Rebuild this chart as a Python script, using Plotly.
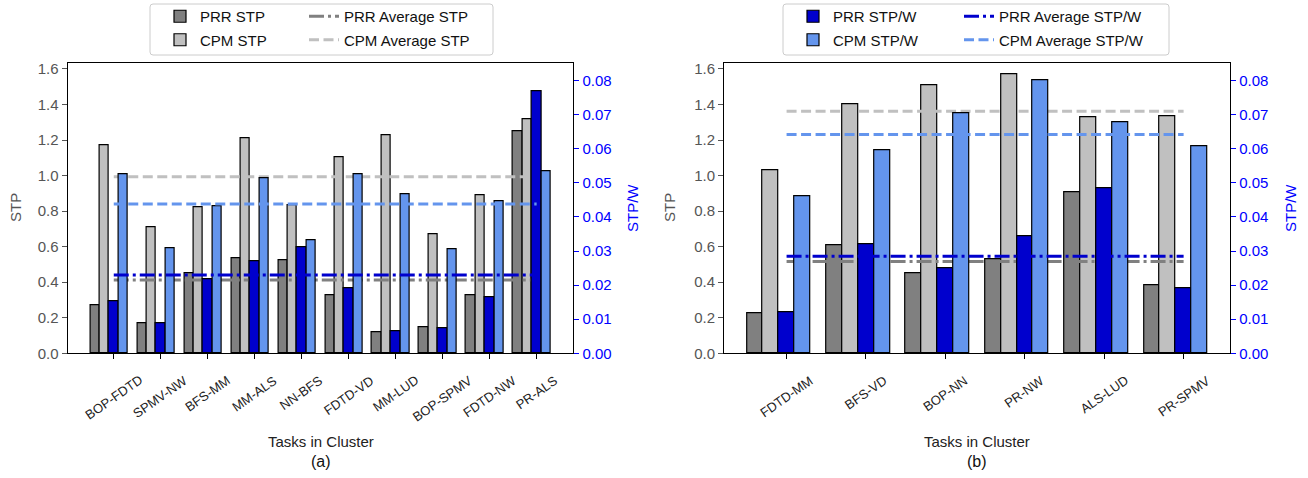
import plotly.graph_objects as go

# ---------------- data ----------------
cats_a = ["BOP-FDTD", "SPMV-NW", "BFS-MM", "MM-ALS", "NN-BFS", "FDTD-VD",
          "MM-LUD", "BOP-SPMV", "FDTD-NW", "PR-ALS"]
prr_stp_a = [0.270, 0.171, 0.450, 0.535, 0.523, 0.326, 0.118, 0.144, 0.328, 1.251]
cpm_stp_a = [1.169, 0.707, 0.820, 1.210, 0.835, 1.105, 1.229, 0.672, 0.891, 1.319]
prr_stpw_a = [0.0153, 0.0087, 0.0218, 0.0271, 0.0310, 0.0190, 0.0066, 0.0072, 0.0165, 0.0770]
cpm_stpw_a = [0.0526, 0.0308, 0.0431, 0.0514, 0.0332, 0.0524, 0.0467, 0.0306, 0.0447, 0.0535]
prr_avg_stp_a = 0.413
cpm_avg_stp_a = 0.994
prr_avg_stpw_a = 0.0230
cpm_avg_stpw_a = 0.0438

cats_b = ["FDTD-MM", "BFS-VD", "BOP-NN", "PR-NW", "ALS-LUD", "PR-SPMV"]
prr_stp_b = [0.225, 0.610, 0.448, 0.527, 0.904, 0.381]
cpm_stp_b = [1.032, 1.403, 1.508, 1.572, 1.326, 1.334]
prr_stpw_b = [0.0120, 0.0320, 0.0250, 0.0344, 0.0483, 0.0191]
cpm_stpw_b = [0.0462, 0.0597, 0.0704, 0.0802, 0.0677, 0.0606]
prr_avg_stp_b = 0.516
cpm_avg_stp_b = 1.362
prr_avg_stpw_b = 0.0285
cpm_avg_stpw_b = 0.0642

stp_ticks = [0.0, 0.2, 0.4, 0.6, 0.8, 1.0, 1.2, 1.4, 1.6]
stpw_ticks = [0.00, 0.01, 0.02, 0.03, 0.04, 0.05, 0.06, 0.07, 0.08]

# ---------------- style ----------------
W, H = 1308, 478   # reference picture size; the figure fills the window
FONT = "Liberation Sans, Arial, sans-serif"
C_PRR = "#808080"
C_CPM = "#c0c0c0"
C_PRRW = "#0000cd"
C_CPMW = "#6495ed"
GRAY_TXT = "#555555"
BLUE_TXT = "#0000ff"
BAR_OFFSETS = [-0.4, -0.2, 0.0, 0.2]
BAR_W = 0.2


def px_x(p):
    return p / W


def px_y(p):
    return 1 - p / H


ydom = [px_y(353.3), px_y(63.3)]
xdom_a = [px_x(67.7), px_x(573.3)]
xdom_b = [px_x(724.3), px_x(1230.0)]

fig = go.Figure()


def add_panel(cats, prr, cpm, prrw, cpmw, avg_prr, avg_cpm, avg_prrw, avg_cpmw,
              xa, ya, ya2, leg_bar, leg_line, show_stp_legend):
    n = len(cats)
    idx = list(range(n))
    series = [
        ("PRR STP", prr, C_PRR, ya, show_stp_legend),
        ("CPM STP", cpm, C_CPM, ya, show_stp_legend),
        ("PRR STP/W", prrw, C_PRRW, ya2, not show_stp_legend),
        ("CPM STP/W", cpmw, C_CPMW, ya2, not show_stp_legend),
    ]
    for k, (name, vals, col, yax, sl) in enumerate(series):
        fig.add_trace(go.Bar(
            x=[i + BAR_OFFSETS[k] for i in idx], y=vals, width=BAR_W,
            name=name, marker=dict(color=col, line=dict(color="black", width=1.2)),
            xaxis=xa, yaxis=yax, showlegend=sl, legend=leg_bar,
            legendgroup=name + xa,
        ))
    lines = [
        ("PRR Average STP", avg_prr, C_PRR, "15px,4px,3px,4px", ya, show_stp_legend),
        ("CPM Average STP", avg_cpm, C_CPM, "10px,4.5px", ya, show_stp_legend),
        ("PRR Average STP/W", avg_prrw, C_PRRW, "15px,4px,3px,4px", ya2, not show_stp_legend),
        ("CPM Average STP/W", avg_cpmw, C_CPMW, "10px,4.5px", ya2, not show_stp_legend),
    ]
    for name, v, col, dash, yax, sl in lines:
        fig.add_trace(go.Scatter(
            x=[0, n - 1], y=[v, v], mode="lines", name=name,
            line=dict(color=col, width=3, dash=dash),
            xaxis=xa, yaxis=yax, showlegend=sl, legend=leg_line,
            legendgroup=name + xa,
        ))


add_panel(cats_a, prr_stp_a, cpm_stp_a, prr_stpw_a, cpm_stpw_a,
          prr_avg_stp_a, cpm_avg_stp_a, prr_avg_stpw_a, cpm_avg_stpw_a,
          "x", "y", "y2", "legend", "legend2", True)
add_panel(cats_b, prr_stp_b, cpm_stp_b, prr_stpw_b, cpm_stpw_b,
          prr_avg_stp_b, cpm_avg_stp_b, prr_avg_stpw_b, cpm_avg_stpw_b,
          "x2", "y3", "y4", "legend3", "legend4", False)


def xaxis_cfg(dom, n, ymatch):
    m = 0.049 * (n - 0.2)
    return dict(domain=dom, range=[-0.5 - m, n - 1 + 0.3 + m],
                tickvals=list(range(n)), showticklabels=False,
                ticks="outside", ticklen=5, tickcolor="black", tickwidth=1,
                showline=True, linecolor="black", linewidth=1.3, mirror=True,
                showgrid=False, zeroline=False, anchor=ymatch)


def yaxis_cfg(xanchor):
    return dict(domain=ydom, range=[0, 1.632], tickvals=stp_ticks, tickformat=".1f",
                ticks="outside", ticklen=5, tickcolor=GRAY_TXT, tickwidth=1,
                tickfont=dict(family=FONT, size=15, color=GRAY_TXT),
                showline=True, linecolor="black", linewidth=1.3,
                showgrid=False, zeroline=False, anchor=xanchor)


def yaxis2_cfg(xanchor, over):
    return dict(range=[0, 0.0851], tickvals=stpw_ticks, tickformat=".2f",
                overlaying=over, side="right",
                ticks="outside", ticklen=5, tickcolor=BLUE_TXT, tickwidth=1,
                tickfont=dict(family=FONT, size=15, color=BLUE_TXT),
                showline=True, linecolor="black", linewidth=1.3,
                showgrid=False, zeroline=False, anchor=xanchor)


annotations = []


def add_labels(cats, xref, xcenter_px, stp_x_px, stpw_x_px, letter):
    for i, c in enumerate(cats):
        annotations.append(dict(x=i, xref=xref, y=px_y(370), yref="paper",
                                text=c, showarrow=False, textangle=-35,
                                xanchor="center", yanchor="top",
                                font=dict(family=FONT, size=13, color="#222222")))
    annotations.append(dict(x=px_x(xcenter_px), y=px_y(441), xref="paper", yref="paper",
                            text="Tasks in Cluster", showarrow=False,
                            xanchor="center", yanchor="middle",
                            font=dict(family=FONT, size=15, color="#222222")))
    annotations.append(dict(x=px_x(xcenter_px), y=px_y(461), xref="paper", yref="paper",
                            text=letter, showarrow=False,
                            xanchor="center", yanchor="middle",
                            font=dict(family=FONT, size=16, color="#111111")))
    annotations.append(dict(x=px_x(stp_x_px), y=px_y(208), xref="paper", yref="paper",
                            text="STP", showarrow=False, textangle=-90,
                            xanchor="center", yanchor="middle",
                            font=dict(family=FONT, size=15, color=GRAY_TXT)))
    annotations.append(dict(x=px_x(stpw_x_px), y=px_y(208), xref="paper", yref="paper",
                            text="STP/W", showarrow=False, textangle=-90,
                            xanchor="center", yanchor="middle",
                            font=dict(family=FONT, size=15, color=BLUE_TXT)))


add_labels(cats_a, "x", 320.5, 15, 632, "(a)")
add_labels(cats_b, "x2", 977, 669, 1290, "(b)")


def rounded_box(x0, y0, x1, y1, r=3):
    X0, X1 = px_x(x0), px_x(x1)
    Y0, Y1 = px_y(y0), px_y(y1)
    rx, ry = r / W, r / H
    path = (f"M{X0 + rx},{Y0} L{X1 - rx},{Y0} Q{X1},{Y0} {X1},{Y0 - ry} "
            f"L{X1},{Y1 + ry} Q{X1},{Y1} {X1 - rx},{Y1} "
            f"L{X0 + rx},{Y1} Q{X0},{Y1} {X0},{Y1 + ry} "
            f"L{X0},{Y0 - ry} Q{X0},{Y0} {X0 + rx},{Y0} Z")
    return dict(type="path", path=path, xref="paper", yref="paper",
                line=dict(color="#cccccc", width=1), fillcolor="rgba(255,255,255,0.8)",
                layer="below")


shapes = [rounded_box(150, 4, 493, 55), rounded_box(783, 4, 1169, 55)]


def legend_cfg(xpx):
    return dict(x=px_x(xpx), y=px_y(0), xanchor="left", yanchor="top",
                orientation="v", bgcolor="rgba(0,0,0,0)", borderwidth=0,
                font=dict(family=FONT, size=15, color="#111111"),
                tracegroupgap=1, itemclick=False, itemdoubleclick=False)


fig.update_layout(
    autosize=True,
    margin=dict(l=0, r=0, t=0, b=0, autoexpand=False),
    paper_bgcolor="white", plot_bgcolor="white",
    barmode="overlay", bargap=0,
    font=dict(family=FONT, size=15),
    xaxis=xaxis_cfg(xdom_a, len(cats_a), "y"),
    xaxis2=xaxis_cfg(xdom_b, len(cats_b), "y3"),
    yaxis=yaxis_cfg("x"),
    yaxis2=yaxis2_cfg("x", "y"),
    yaxis3=yaxis_cfg("x2"),
    yaxis4=yaxis2_cfg("x2", "y3"),
    legend=legend_cfg(160),
    legend2=legend_cfg(304),
    legend3=legend_cfg(793),
    legend4=legend_cfg(959),
    annotations=annotations,
    shapes=shapes,
)

# the figure fills the whole window; remove the default page margin
fig.write_html("out.html",
               default_width="100vw", default_height="100vh",
               config={"displayModeBar": False},
               post_script="document.body.style.margin='0px';document.body.style.overflow='hidden';")
